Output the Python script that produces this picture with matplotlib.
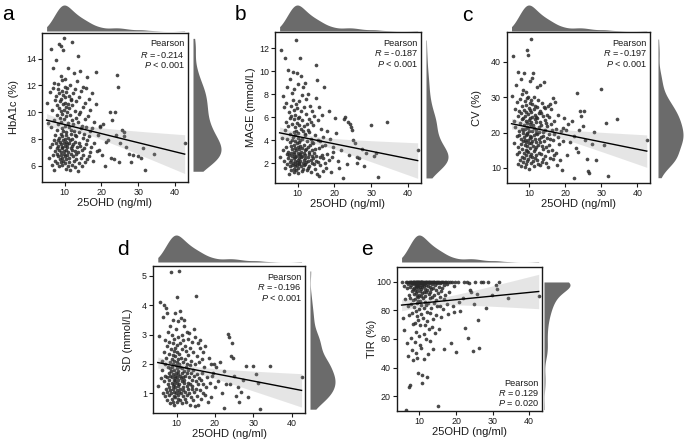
import numpy as np
import matplotlib
matplotlib.use('Agg')
import matplotlib.pyplot as plt

plt.rcParams['font.family'] = ['Liberation Sans', 'DejaVu Sans']
plt.rcParams['mathtext.fontset'] = 'custom'
plt.rcParams['mathtext.rm'] = 'Liberation Sans'
plt.rcParams['mathtext.it'] = 'Liberation Sans:italic'

# ---------------- data ----------------
ohd25 = [
    5.1, 5.4, 5.7, 5.9,
    6.1, 6.2, 6.4, 6.5, 6.6, 6.7, 6.8, 6.9, 6.9,
    7.0, 7.1, 7.2, 7.2, 7.3, 7.4, 7.4, 7.5, 7.6, 7.6, 7.7, 7.8, 7.8, 7.9, 7.9,
    8.0, 8.0, 8.1, 8.1, 8.2, 8.2, 8.3, 8.3, 8.4, 8.4, 8.5, 8.5, 8.6, 8.6, 8.7, 8.7, 8.8, 8.8, 8.9, 8.9,
    8.95, 8.95,
    9.0, 9.0, 9.0, 9.1, 9.1, 9.1, 9.2, 9.2, 9.2, 9.3, 9.3, 9.3, 9.4, 9.4, 9.4, 9.5, 9.5, 9.5, 9.6, 9.6,
    9.6, 9.7, 9.7, 9.8, 9.8, 9.9, 9.9,
    10.0, 10.0, 10.0, 10.1, 10.1, 10.1, 10.2, 10.2, 10.2, 10.3, 10.3, 10.3, 10.4, 10.4, 10.4, 10.5, 10.5,
    10.5, 10.6, 10.6, 10.6, 10.7, 10.7, 10.8, 10.8, 10.9, 10.9,
    11.0, 11.0, 11.1, 11.1, 11.2, 11.2, 11.3, 11.3, 11.4, 11.4, 11.5, 11.5, 11.6, 11.6, 11.7, 11.7, 11.8,
    11.8, 11.9, 11.9, 11.95, 11.95,
    12.0, 12.1, 12.1, 12.2, 12.3, 12.3, 12.4, 12.5, 12.5, 12.6, 12.7, 12.7, 12.8, 12.8, 12.9, 12.9, 12.95,
    13.0, 13.1, 13.2, 13.2, 13.3, 13.4, 13.5, 13.5, 13.6, 13.7, 13.8, 13.8, 13.9, 13.95,
    14.0, 14.1, 14.2, 14.3, 14.4, 14.5, 14.5, 14.6, 14.7, 14.8, 14.9, 14.95,
    15.0, 15.1, 15.2, 15.3, 15.4, 15.5, 15.6, 15.7, 15.8, 15.9,
    16.0, 16.1, 16.2, 16.4, 16.5, 16.6, 16.7, 16.8, 16.9,
    17.0, 17.2, 17.4, 17.5, 17.7, 17.9,
    18.1, 18.4, 18.6, 18.9,
    19.1, 19.5,
    19.3, 19.7, 20.1, 20.4, 20.9, 21.2, 21.8, 22.3, 22.5, 22.9, 23.3, 23.6, 23.9, 24.2, 24.5, 24.8, 25.1,
    25.6, 26.0, 26.2, 26.7, 27.4, 28.1, 28.6, 29.9, 30.8, 31.2, 31.8, 34.3, 42.6,
]

hba1c = [
    10.7, 9.2, 6.6, 11.5, 7.4,
    8.9, 14.7, 6.1, 10.2, 7.6, 11.8, 6.8, 13.3, 7.9, 5.7, 9.4, 12.2,
    7.1, 10.9, 6.4, 8.3, 13.9, 7.7, 11.2, 6.9, 9.8, 7.3, 10.5, 8.7, 6.2, 11.7, 7.5, 9.1, 6.7, 12.1, 7.9, 10.3, 6.0,
    8.1, 15.1, 7.2, 11.4, 6.5, 9.6, 7.8, 10.8, 6.3, 12.7, 8.4, 7.0, 11.0, 9.3, 6.8, 14.9, 7.6, 10.1, 8.8, 6.1,
    11.6, 7.4, 9.9, 6.6, 12.4, 8.2, 7.3, 10.6,
    7.9, 14.6, 6.4, 11.3, 8.6, 7.1, 10.2, 15.5, 6.9, 9.5, 7.7, 11.9, 8.0, 6.2, 10.7, 7.5, 12.5, 9.0, 6.7, 11.1,
    7.8, 8.5, 5.8, 10.4, 7.2, 9.7, 6.5, 11.5, 8.3, 7.6, 10.0,
    6.8, 11.8, 7.4, 9.2, 6.0, 10.6, 8.1, 13.3, 7.0, 11.2, 6.6, 8.9, 7.7, 10.3, 6.3, 12.0, 7.9, 9.8, 5.7, 8.4,
    11.0, 7.3, 6.9, 10.9, 8.7, 7.5, 6.1, 9.4,
    7.2, 10.5, 8.0, 15.2, 6.7, 11.4, 7.6, 9.1, 6.4, 12.9, 8.6, 7.1, 10.1, 5.9, 8.3, 11.7, 7.8, 6.5, 9.6,
    8.2, 6.9, 10.8, 7.4, 12.3, 5.6, 9.3, 7.0, 14.2, 8.5, 6.2, 11.1, 7.7, 9.9,
    13.1, 7.5, 10.0, 6.6, 8.8, 11.6, 7.2, 9.0, 6.0, 10.4, 8.1,
    6.8, 11.9, 8.4, 7.3, 10.7, 6.3, 9.5, 11.8, 7.6, 8.9, 6.5,
    12.6, 7.9, 9.7, 6.7, 11.0, 8.2, 7.0, 10.2, 8.6,
    7.4, 11.4, 8.8, 6.4, 9.3, 7.7, 10.6,
    13.0, 7.1, 8.3, 9.0,
    7.2, 8.9, 6.8, 9.1, 6.0, 7.8, 7.9, 10.0, 6.6, 9.4, 6.5, 10.0, 8.3, 12.8, 11.9, 6.3, 7.7,
    8.7, 8.2, 8.5, 7.4, 6.9, 6.3, 6.8, 6.7, 6.6, 7.3, 5.7, 6.9, 7.7,
]

mage = [
    2.5, 11.8, 4.2, 7.8, 3.1,
    6.9, 2.2, 11.1, 4.9, 1.6, 7.2, 3.4, 5.6, 2.8, 8.6, 1.9, 4.1,
    10.1, 2.4, 5.2, 3.0, 1.0, 6.4, 2.7, 9.3, 3.8, 1.7, 5.9, 2.1, 4.5, 7.0, 2.9, 3.5, 1.4, 6.1, 2.3, 8.1, 4.0,
    3.2, 5.4, 1.8, 2.6, 7.5, 4.3, 2.0, 9.9, 3.6, 1.5, 5.8, 2.4, 6.6, 3.0, 1.2, 4.7, 2.8, 8.4, 3.9, 2.2,
    5.1, 1.7, 6.2, 3.3, 2.5, 4.4, 1.9, 7.1,
    12.7, 2.6, 4.8, 1.4, 3.1, 9.8, 2.1, 5.5, 3.7, 1.8, 6.8, 2.9, 4.2, 1.1, 8.9, 3.4, 2.3, 5.9, 1.6, 4.6,
    2.7, 7.4, 3.2, 1.9, 5.3, 2.4, 6.0, 3.8, 2.0, 4.0, 2.8,
    3.5, 11.1, 2.2, 5.0, 1.7, 9.6, 3.0, 2.5, 6.5, 4.1, 1.3, 7.9, 2.6, 5.7, 3.3, 2.0, 4.8, 1.5, 8.6, 3.6,
    2.3, 5.2, 2.9, 6.9, 1.8, 4.4, 3.1, 2.4,
    9.0, 2.7, 4.5, 1.9, 6.3, 3.2, 2.1, 7.6, 1.4, 5.4, 3.9, 2.5, 4.9, 1.6, 3.4, 8.0, 2.2, 5.8, 3.0,
    2.8, 4.7, 1.7, 7.0, 3.6, 2.3, 5.6, 1.2, 4.1, 3.1, 6.5, 2.0, 3.8, 2.6,
    5.3, 2.4, 3.7, 1.9, 6.1, 2.9, 4.4, 1.5, 3.2, 7.7, 2.2,
    10.5, 2.6, 9.2, 1.0, 4.0, 2.1, 5.7, 3.3, 0.9, 6.9, 2.5,
    3.9, 1.8, 5.0, 2.7, 6.2, 3.5, 1.3, 4.3, 2.4,
    8.6, 2.0, 3.6, 1.6, 4.8, 2.8, 6.5,
    2.3, 4.1, 1.2, 3.0,
    2.5, 3.4, 5.9, 4.6, 2.2, 1.6, 3.1, 0.7, 5.8, 6.0, 1.9, 5.6, 2.7, 5.4, 5.1, 4.9, 4.0,
    3.7, 2.5, 2.0, 2.4, 3.2, 1.7, 2.9, 5.3, 2.6, 2.9, 0.8, 5.6, 3.1,
]

cv = [
    30.5, 41.8, 17.1, 23.4, 26.8,
    21.5, 33.5, 13.8, 28.6, 18.9, 11.2, 24.7, 16.0, 37.2, 20.3, 26.1, 14.6,
    19.4, 29.5, 12.3, 22.8, 16.7, 35.1, 18.2, 25.5, 10.6, 21.0, 30.9, 15.3, 23.9, 13.1, 27.4, 19.8, 11.7, 24.2,
    17.5, 32.0, 20.6,
    14.2, 26.5, 18.6, 36.8, 22.1, 12.8, 28.9, 16.4, 20.9, 10.2, 24.8, 18.0, 31.6, 15.0, 23.3, 13.5, 27.8, 19.2,
    11.0, 25.7, 17.3, 21.7, 14.9, 29.7, 20.0, 16.1, 22.6, 12.0,
    43.5, 19.6, 25.2, 14.5, 42.0, 21.3, 17.8, 30.2, 12.5, 23.6, 16.9, 27.0, 9.8, 20.4, 34.6, 15.6, 24.1, 18.4,
    28.3, 13.3, 22.4, 19.0, 26.3, 11.4, 21.8, 17.0, 29.1, 14.0, 23.0, 18.7, 25.9,
    46.5, 20.5, 13.0, 35.5, 24.5, 17.6, 28.0, 11.9, 22.2, 37.0, 16.2, 26.7, 19.3, 14.7, 30.0, 21.2, 10.4, 25.0,
    18.1, 23.7, 15.4, 27.6, 12.7, 20.7, 17.2, 24.4, 13.6, 19.9,
    22.9, 15.8, 27.2, 12.2, 33.0, 19.5, 24.0, 16.6, 29.3, 11.1, 21.5, 18.3, 25.4, 14.1, 20.2, 10.9, 26.0, 17.4, 23.1,
    33.5, 18.8, 25.6, 13.9, 22.0, 16.3, 28.5, 11.6, 20.1, 15.2, 24.6, 12.6, 19.1, 27.3,
    34.2, 17.7, 23.5, 13.4, 26.9, 20.8, 15.9, 11.3, 22.7, 18.5, 25.1,
    21.9, 14.8, 27.5, 10.1, 19.7, 24.3, 16.5, 12.9, 28.1, 18.2, 22.5,
    26.6, 15.1, 20.6, 12.4, 29.8, 17.9, 23.2, 13.7, 19.5,
    28.8, 14.3, 21.1, 10.8, 18.6, 24.9, 16.8,
    12.1, 20.3, 9.5, 17.5,
    21.3, 24.2, 20.8, 13.5, 22.3, 17.2, 23.2, 7.2, 19.0, 15.6, 31.2, 14.4, 20.8, 26.0, 24.8, 21.8, 26.1,
    18.0, 12.4, 9.0, 8.6, 16.8, 20.1, 12.2, 32.3, 16.4, 22.6, 7.8, 23.7, 17.8,
]

sd = [
    1.25, 2.95, 4.1, 1.5, 2.1,
    1.8, 3.6, 1.0, 2.4, 1.4, 4.0, 0.9, 2.0, 1.6, 2.8, 1.15, 3.9,
    2.2, 1.05, 3.75, 1.55, 0.75, 2.6, 1.3, 1.9, 3.1, 0.95, 1.7, 2.35, 1.2, 2.75, 1.45, 0.65, 2.05, 1.85, 3.3,
    1.1, 1.6,
    2.5, 1.0, 1.75, 5.15, 1.35, 2.15, 0.8, 3.0, 1.55, 1.9, 2.7, 1.15, 0.7, 2.3, 1.65, 3.5, 1.25, 2.0, 0.9, 1.45,
    2.85, 1.8, 1.05, 2.45, 1.3, 0.6, 2.1, 1.5,
    3.75, 1.2, 2.25, 1.6, 0.85, 2.55, 1.4, 1.95, 3.2, 1.0, 1.7, 2.65, 0.7, 1.35, 2.05, 1.85, 4.27, 1.1, 2.4, 1.55,
    0.95, 2.9, 1.25, 1.75, 3.45, 1.45, 0.8, 2.15, 1.65, 1.05, 2.0,
    5.17, 1.3, 2.35, 1.6, 3.8, 0.75, 1.9, 2.7, 1.15, 1.5, 3.55, 1.0, 2.2, 1.7, 0.65, 2.5, 1.4, 1.85, 3.0, 1.2,
    0.9, 2.05, 1.55, 2.8, 1.1, 1.75, 3.3, 1.35,
    1.45, 3.5, 0.8, 2.15, 1.6, 2.6, 1.05, 1.9, 0.7, 2.45, 1.25, 3.1, 1.7, 0.95, 2.0, 1.35, 2.85, 1.15, 1.8,
    2.3, 1.0, 1.55, 3.05, 0.6, 1.95, 1.3, 2.55, 0.85, 1.7, 2.1, 1.15, 2.75, 1.45,
    1.25, 2.4, 0.75, 1.8, 3.2, 1.05, 1.6, 2.0, 0.55, 2.9, 1.4,
    4.33, 1.15, 2.25, 0.9, 1.65, 2.7, 1.3, 0.6, 2.05, 1.5, 2.55,
    1.1, 2.8, 1.45, 0.8, 2.15, 1.7, 1.0, 2.4, 1.3,
    1.9, 0.95, 2.6, 1.2, 1.55, 0.7, 2.2,
    1.35, 2.0, 0.85, 1.7,
    1.6, 2.0, 1.2, 1.9, 1.4, 2.05, 1.0, 0.5, 1.75, 1.3, 3.03, 2.9, 1.3, 2.25, 2.7, 2.2, 1.6,
    0.9, 1.2, 0.7, 1.05, 1.45, 1.93, 0.85, 1.93, 1.65, 1.35, 0.45, 1.93, 1.55,
]

tir = [
    100, 74.5, 97.2, 66.0, 88.3,
    100, 10.5, 95.8, 57.5, 100, 83.0, 98.4, 48.0, 91.2, 100, 76.8, 26.0,
    100, 96.5, 27.5, 89.0, 100, 61.0, 97.9, 84.2, 100, 52.5, 93.4, 99.1, 78.5, 100, 45.5, 95.0, 87.6, 100,
    70.2, 98.8, 91.8,
    100, 96.0, 82.5, 100, 58.0, 94.3, 99.5, 71.5, 100, 88.0, 97.5, 50.0, 100, 92.6, 79.8, 100, 96.8, 65.0,
    90.5, 100, 98.2, 85.5, 47.0, 100, 94.0, 76.0, 99.0, 89.5,
    100, 36.0, 97.0, 86.8, 100, 73.0, 95.5, 99.6, 62.0, 100, 91.0, 81.0, 98.0, 100, 56.0, 93.8, 87.0, 100,
    96.3, 69.5, 100, 90.0, 99.3, 77.5, 100, 94.8, 84.0, 54.0, 100, 97.7, 92.2,
    100, 29.0, 96.2, 34.5, 100, 88.5, 75.0, 98.6, 100, 63.5, 92.8, 81.8, 100, 97.4, 46.0, 90.2, 100, 86.0,
    99.2, 70.0, 95.2, 100, 60.0, 93.0, 83.5, 100, 98.0, 79.0,
    33.0, 100, 94.6, 72.5, 100, 97.3, 85.0, 49.5, 100, 91.5, 99.0, 67.0, 100, 88.8, 96.6, 78.0, 100, 93.2, 58.5,
    100, 95.4, 82.0, 100, 68.5, 98.5, 89.2, 100, 74.0, 96.0, 53.0, 100, 91.0, 85.2,
    100, 97.6, 64.0, 100, 87.5, 94.2, 76.5, 100, 99.4, 82.8, 92.0,
    13.0, 100, 96.4, 67.0, 100, 89.8, 83.0, 99.0, 100, 75.5, 93.6,
    100, 95.6, 81.2, 100, 53.0, 97.8, 88.2, 100, 90.8,
    100, 84.8, 98.3, 100, 77.2, 93.2, 100,
    57.0, 100, 83.0, 96.9,
    79.0, 100, 50.7, 100, 86.0, 79.3, 88.7, 100, 67.6, 100, 60.6, 99.0, 94.6, 93.0, 51.6, 84.5, 100,
    91.5, 73.5, 53.6, 100, 100, 81.7, 100, 90.6, 97.7, 95.3, 100, 88.7, 89.9,
]

letters = ['a', 'b', 'c', 'd', 'e']
ylabels = ['HbA1c (%)', 'MAGE (mmol/L)', 'CV (%)', 'SD (mmol/L)', 'TIR (%)']
series = [hba1c, mage, cv, sd, tir]
r_texts = ['-0.214', '-0.187', '-0.197', '-0.196', '0.129']
p_texts = ['< 0.001', '< 0.001', '< 0.001', '< 0.001', '= 0.020']
yticks = [[6, 8, 10, 12, 14], [2, 4, 6, 8, 10, 12], [10, 20, 30, 40], [1, 2, 3, 4, 5],
          [20, 40, 60, 80, 100]]
xticks = [10, 20, 30, 40]
xlabel = '25OHD (ng/ml)'

# ---------------- layout (pixels) ----------------
W, H = 685, 446
layout = [
    dict(box=(42, 33, 188, 182), top=(5, 31), right=(193, 221), ylim=(4.8, 15.9), let=(2, 20), ylx=14, ann='top'),
    dict(box=(275, 32, 421, 183), top=(5, 31), right=(426, 448), ylim=(0.26, 13.4), let=(235, 20), ylx=251, ann='top'),
    dict(box=(507, 32, 650, 183), top=(5, 31), right=(658, 683), ylim=(5.7, 48.5), let=(462, 21), ylx=477, ann='top'),
    dict(box=(153, 266, 305, 413), top=(235, 262), right=(310, 335), ylim=(0.32, 5.34), let=(117, 255), ylx=128, ann='top'),
    dict(box=(397, 267, 542, 411), top=(235, 262), right=(544, 570), ylim=(9.5, 110.5), let=(361, 255), ylx=372, ann='bottom'),
]
xlim = (3.85, 43.5)
dens_col = '#6b6b6b'
pt_col = '#2a2a2a'
txt_col = '#1a1a1a'

fig = plt.figure(figsize=(W / 100, H / 100), dpi=100)


def add_px(L, T, R, B):
    return fig.add_axes([L / W, 1 - B / H, (R - L) / W, (B - T) / H])


def kde(v, grid):
    v = np.asarray(v, float)
    n = len(v)
    s = v.std(ddof=1)
    q75, q25 = np.percentile(v, [75, 25])
    bw = 0.9 * min(s, (q75 - q25) / 1.34) * n ** -0.2
    z = (grid[:, None] - v[None, :]) / bw
    return np.exp(-0.5 * z ** 2).sum(1) / (n * bw * np.sqrt(2 * np.pi))


x = np.asarray(ohd25, float)
for i in range(5):
    y = np.asarray(series[i], float)
    m = min(len(x), len(y))
    xi, yi = x[:m], y[:m]
    lay = layout[i]
    L, T, R, B = lay['box']
    ax = add_px(L, T, R, B)
    ax.scatter(xi, yi, s=7, color=pt_col, alpha=0.85, linewidths=0, zorder=2)

    # linear fit with 95% CI
    n = len(xi)
    b1, b0 = np.polyfit(xi, yi, 1)
    xs = np.linspace(xi.min(), xi.max(), 200)
    fit = b0 + b1 * xs
    res = yi - (b0 + b1 * xi)
    s = np.sqrt((res ** 2).sum() / (n - 2))
    sxx = ((xi - xi.mean()) ** 2).sum()
    se = s * np.sqrt(1 / n + (xs - xi.mean()) ** 2 / sxx)
    ax.fill_between(xs, fit - 1.97 * se, fit + 1.97 * se, color='#9a9a9a', alpha=0.25, lw=0, zorder=3)
    ax.plot(xs, fit, color='black', lw=1.0, zorder=4)

    ax.set_xlim(*xlim)
    ax.set_ylim(*lay['ylim'])
    ax.set_xticks(xticks)
    ax.set_yticks(yticks[i])
    ax.tick_params(direction='out', length=2.6, width=0.8, color=txt_col, labelsize=6.4,
                   labelcolor=txt_col, pad=1.8)
    for sp in ax.spines.values():
        sp.set_linewidth(1.0)
        sp.set_color('#1a1a1a')

    # annotation
    rx = (R - 3) / W
    if lay['ann'] == 'top':
        bases = [T + 13.5, T + 24.5, T + 35]
    else:
        bases = [B - 24.5, B - 14.5, B - 4.5]
    lines = ['Pearson', r'$\mathit{R}$ = ' + r_texts[i], r'$\mathit{P}$ ' + p_texts[i]]
    for txt, yb in zip(lines, bases):
        fig.text(rx, 1 - yb / H, txt, ha='right', va='baseline', fontsize=6.6, color=txt_col)

    # labels
    fig.text((L + R) / 2 / W, 1 - (B + 24) / H, xlabel, ha='center', va='baseline', fontsize=8, color=txt_col)
    fig.text(lay['ylx'] / W, 1 - (T + B) / 2 / H, ylabels[i], ha='center', va='center', rotation=90,
             fontsize=8, color=txt_col)
    fig.text(lay['let'][0] / W, 1 - lay['let'][1] / H, letters[i], ha='left', va='baseline', fontsize=15,
             color='black')

    # top marginal density
    tT, tB = lay['top']
    axt = add_px(L, tT, R, tB)
    gx = np.linspace(xi.min(), xi.max(), 512)
    dx = kde(xi, gx)
    axt.fill_between(gx, 0, dx, color=dens_col, lw=0)
    axt.set_xlim(*xlim)
    axt.set_ylim(0, dx.max())
    axt.axis('off')

    # right marginal density
    rL, rR = lay['right']
    axr = add_px(rL, T, rR, B)
    gy = np.linspace(yi.min(), yi.max(), 512)
    dy = kde(yi, gy)
    axr.fill_betweenx(gy, 0, dy, color=dens_col, lw=0)
    axr.set_ylim(*lay['ylim'])
    axr.set_xlim(0, dy.max())
    axr.axis('off')

fig.savefig('out.png', dpi=100)
